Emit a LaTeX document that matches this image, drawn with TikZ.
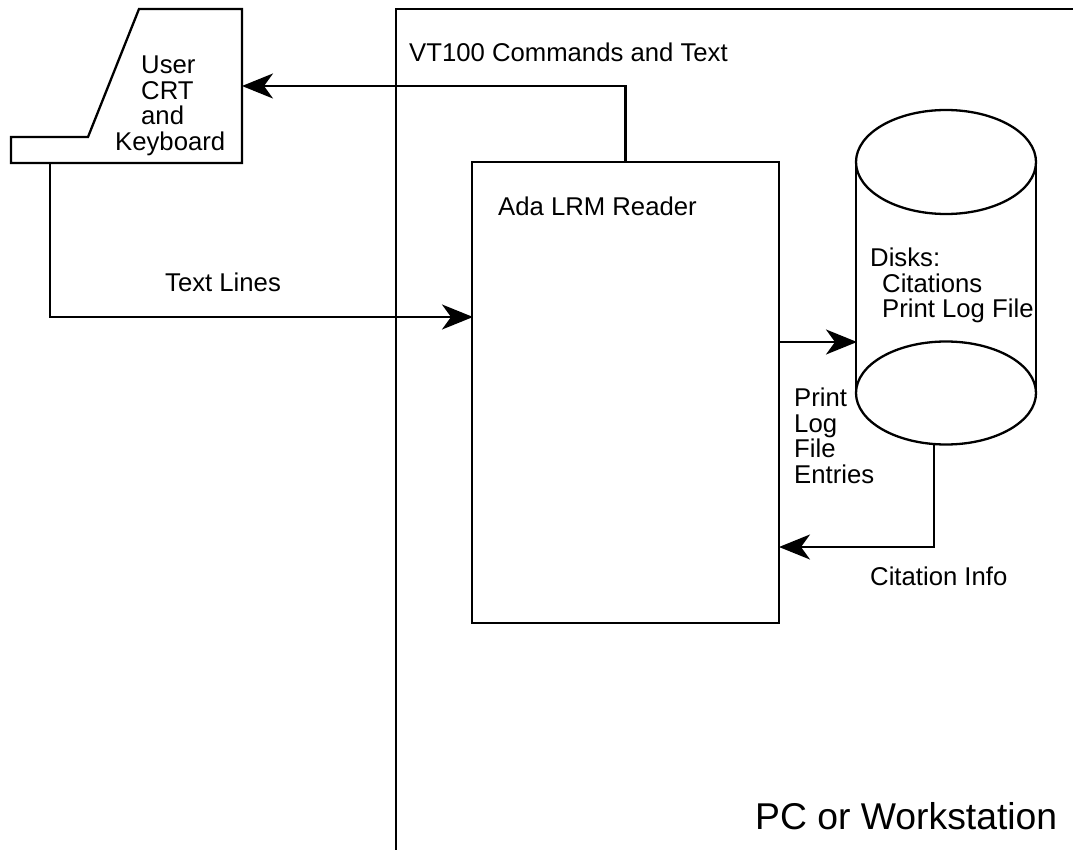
\documentclass[tikz,border=0pt]{standalone}
\usepackage{fontspec}
\setmainfont{Liberation Sans}
\usepackage{amsmath}
\usetikzlibrary{calc,arrows.meta,shapes.geometric}
\tikzset{
  line/.style={line width=2.3pt,line join=miter,outer sep=0pt},
  flow/.style={line,-{Stealth[length=31pt,width=25pt,inset=9pt]}},
  label/.style={anchor=north west,inner sep=0pt,align=left,font=\fontsize{25.7}{25.7}\selectfont},
}
\begin{document}
\begin{tikzpicture}[x=1pt,y=-1pt]
  \useasboundingbox (0,0) rectangle (1073,850);
  % workstation frame
  \coordinate (pca) at (1073,9);
  \coordinate (pcb) at (396,9);
  \coordinate (pcc) at (396,850);
  \draw[line] (pca)--(pcb)--(pcc);
  \node[label,font=\fontsize{37.3}{38}\selectfont](pc)at(755,802){PC or Workstation};
  % terminal
  \coordinate (ta) at (11,137);
  \coordinate (tb) at (88,137);
  \coordinate (tc) at (139,9);
  \coordinate (td) at (242,9);
  \coordinate (te) at (242,163);
  \coordinate (tf) at (11,163);
  \draw[line] (ta)--(tb)--(tc)--(td)--(te)--(tf)--cycle;
  \node[label](user)at(115,55.5){\hspace*{26pt}User\\\hspace*{26pt}CRT\\\hspace*{26pt}and\\Keyboard};
  % reader
  \node[draw,line,minimum width=307pt,minimum height=461pt,inner sep=0pt](reader)at(625.5,392.5){};
  \node[label](readerl)at(498,196.5){Ada LRM Reader};
  % disks
  \node[ellipse,draw,line,minimum width=180pt,minimum height=104pt,inner sep=0pt](dtop)at(946,162){};
  \node[ellipse,draw,line,minimum width=180pt,minimum height=103pt,inner sep=0pt](dbot)at(946,393){};
  \draw[line] (dtop.west)--(dbot.west);
  \draw[line] (dtop.east)--(dbot.east);
  \node[label](disks)at(870,247.5){Disks:\\\hspace*{12pt}Citations\\\hspace*{12pt}Print Log File};
  % connectors
  \coordinate (va) at (625.5,86);
  \coordinate (vb) at (242,86);
  \draw[flow] (reader.north)--(va)--(vb);
  \node[label](vt)at(409,42.5){VT100 Commands and Text};
  \coordinate (la) at (50,163);
  \coordinate (lb) at (50,317);
  \coordinate (lc) at (473,317);
  \draw[flow] (la)--(lb)--(lc);
  \node[label](lines)at(165,272.5){Text Lines};
  \coordinate (pa) at (779,342);
  \coordinate (pb) at (857,342);
  \draw[flow] (pa)--(pb);
  \node[label](print)at(794,387.5){Print\\Log\\File\\Entries};
  \coordinate (ca) at (934,444);
  \coordinate (cb) at (934,547);
  \coordinate (cc) at (779,547);
  \draw[flow] (ca)--(cb)--(cc);
  \node[label](cite)at(870,566.5){Citation Info};
\end{tikzpicture}
\end{document}
